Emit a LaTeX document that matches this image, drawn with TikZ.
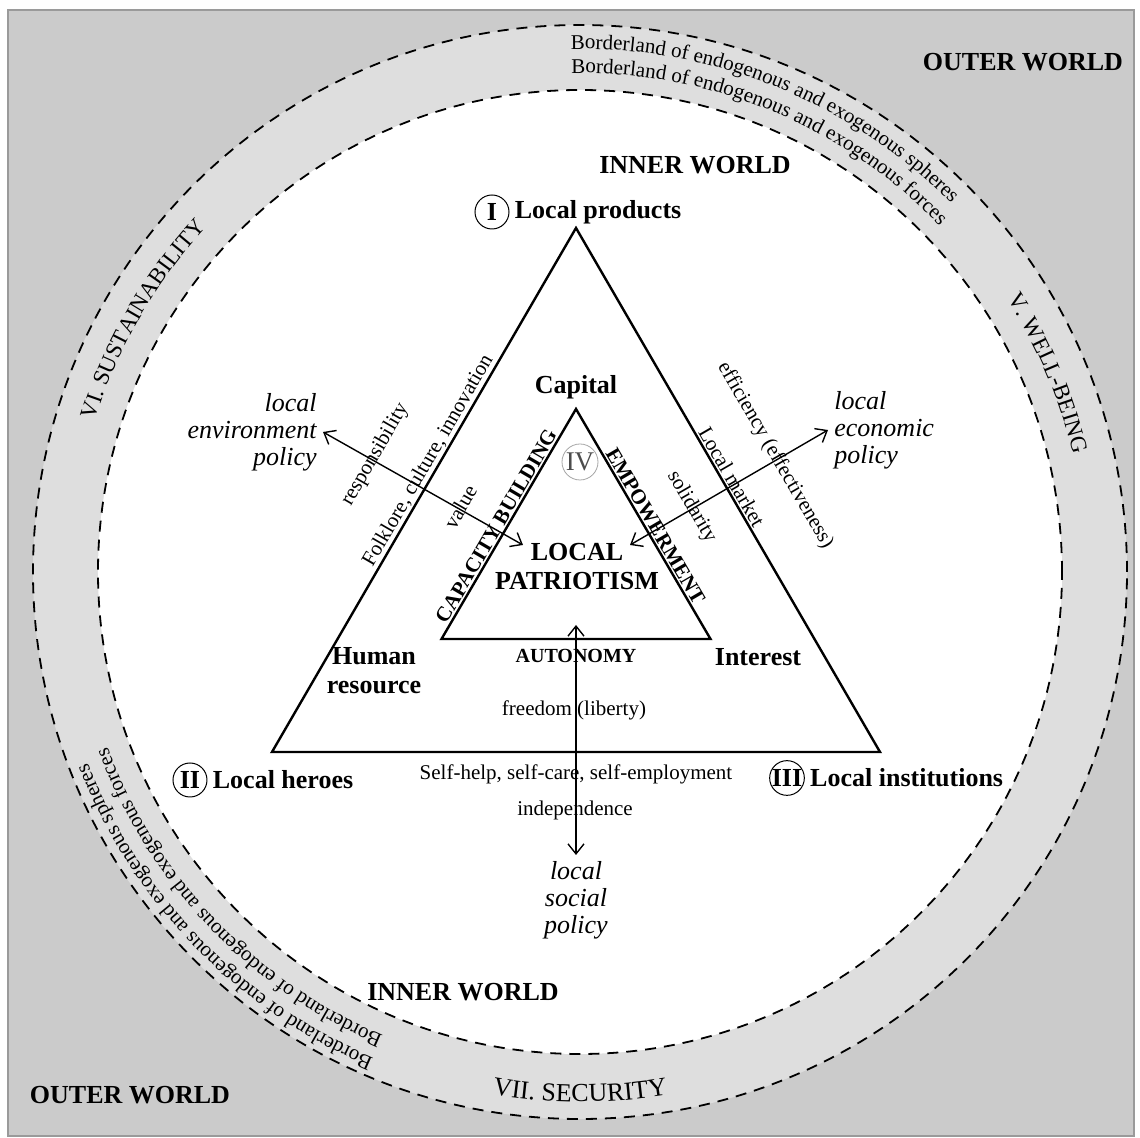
\documentclass[tikz,border=0pt]{standalone}
\usepackage{fontspec}
\setmainfont{Liberation Serif}
\usepackage{xcolor}
\usepackage{tikz}
\usetikzlibrary{arrows.meta, positioning, calc, decorations.text}

\definecolor{outergray}{HTML}{CBCBCB}
\definecolor{ringgray}{HTML}{DEDEDE}
\definecolor{framegray}{HTML}{9A9A9A}
\newcommand{\ringfont}{\fontsize{11.5}{13}\selectfont}
\newcommand{\bordfont}{\fontsize{10.5}{12}\selectfont}

\begin{document}
\begin{tikzpicture}[
    x=0.5pt, y=0.5pt,
    side/.style={draw, line width=1.2pt, line join=miter},
    border/.style={dash pattern=on 5.5pt off 4pt, line width=0.9pt},
    title/.style={font=\bfseries\fontsize{13}{14.5}\selectfont, align=center, inner sep=1pt},
    num/.style={circle, draw, line width=0.5pt, minimum size=17pt, inner sep=0pt, font=\bfseries\fontsize{13}{15}\selectfont},
    lbl/.style={font=\fontsize{10.5}{12}\selectfont, inner sep=1pt},
    caps/.style={font=\bfseries\fontsize{#1}{12}\selectfont, inner sep=1pt},
    policy/.style={font=\itshape\fontsize{13}{13.5}\selectfont, inner sep=3pt, align=#1},
    biarrow/.style={{Straight Barb[length=5pt,width=8pt]}-{Straight Barb[length=5pt,width=8pt]}, line width=0.7pt},
    ringtext/.style n args={2}{decorate, decoration={text along path, text align=#1, text={#2}}},
]
\useasboundingbox (-580,-566) rectangle (560,572);

% Worlds
\fill[outergray, draw=framegray, line width=0.8pt] (-572,-564) rectangle (554,562);
\fill[ringgray] (0,0) circle[radius=547];
\fill[white] (0,0) circle[radius=482];
\draw[border] (0,0) circle[radius=547];
\draw[border] (0,0) circle[radius=482];

\node[title] (outerTR) at (443,510) {OUTER WORLD};
\node[title] (outerBL) at (-450,-523) {OUTER WORLD};
\node[title] (innerT) at (115,407) {INNER WORLD};
\node[title] (innerB) at (-117,-420) {INNER WORLD};

% Ring labels
\path[ringtext={center}{|\ringfont|VI. SUSTAINABILITY}] (190:508) arc[start angle=190, end angle=110, radius=508];
\path[ringtext={center}{|\ringfont|V. WELL-BEING}] (63:507) arc[start angle=63, end angle=-17, radius=507];
\path[ringtext={center}{|\fontsize{13}{15}\selectfont|VII. SECURITY}] (230:530) arc[start angle=230, end angle=310, radius=530];
\path[ringtext={left}{|\bordfont|Borderland of endogenous and exogenous spheres}] (91:523) arc[start angle=91, end angle=20, radius=523];
\path[ringtext={left}{|\bordfont|Borderland of endogenous and exogenous forces}] (91:499) arc[start angle=91, end angle=20, radius=499];
\path[ringtext={left}{|\bordfont|Borderland of endogenous and exogenous spheres}] (247:528) arc[start angle=247, end angle=175, radius=528];
\path[ringtext={left}{|\bordfont|Borderland of endogenous and exogenous forces}] (247:504) arc[start angle=247, end angle=175, radius=504];

% Triangles
\coordinate (oT) at (-4,344);
\coordinate (oL) at (-308,-180);
\coordinate (oR) at (300,-180);
\coordinate (iT) at (-4,163);
\coordinate (iL) at (-138.5,-67);
\coordinate (iR) at (130.5,-67);
\draw[side] (oT) -- (oL) -- (oR) -- cycle;
\draw[side] (iT) -- (iL) -- (iR) -- cycle;

% Corners
\node[num] (numI) at (-88,360) {I};
\node[title, right=1.5pt of numI] (products) {Local products};
\node[num] (numII) at (-390,-208) {II};
\node[title, right=1.5pt of numII] (heroes) {Local heroes};
\node[num] (numIII) at (207,-206) {III};
\node[title, right=1.5pt of numIII] (institutions) {Local institutions};

\node[title] (capital) at (-4,185) {Capital};
\node[title] (human) at (-206,-99) {Human\\resource};
\node[title] (interest) at (178,-85) {Interest};
\node[circle, draw=gray!70, line width=0.4pt, minimum size=18pt, inner sep=0pt, text=black!70, font=\fontsize{13.5}{15}\selectfont] (numIV) at (0,110) {IV};
\node[title] (patriot) at (-3,5) {LOCAL\\PATRIOTISM};

% Side labels
\path (oL) -- (oT)
    node[lbl, pos=0.545, sloped, above] (folklore) {Folklore, culture, innovation}
    node[lbl, pos=0.51, sloped, above=24pt] (resp) {responsibility}
    node[lbl, pos=0.506, sloped, below=15pt] (value) {value};
\path (oT) -- (oR)
    node[lbl, pos=0.485, sloped, above] (market) {Local market}
    node[lbl, pos=0.49, sloped, above=23pt] (effic) {efficiency (effectiveness)}
    node[lbl, pos=0.494, sloped, below=14pt] (solid) {solidarity};
\path (oL) -- (oR)
    node[lbl, midway, below=5pt] (selfhelp) {Self-help, self-care, self-employment};
\path (iL) -- (iT) node[caps=10.5, pos=0.47, sloped, above] (capacity) {CAPACITY BUILDING};
\path (iT) -- (iR) node[caps=10.5, pos=0.53, sloped, above] (empower) {EMPOWERMENT};
\path (iL) -- (iR) node[caps=10, midway, below=4pt] (autonomy) {AUTONOMY};
\node[lbl] (freedom) at (-6,-138) {freedom (liberty)};
\node[lbl] (indep) at (-5,-238) {independence};

% Policies
\node[policy=right, anchor=east] (envpol) at (-257,140) {local\\environment\\policy};
\node[policy=left, anchor=west] (ecopol) at (248,142) {local\\economic\\policy};
\node[policy=center, anchor=north] (socpol) at (-4,-283) {local\\social\\policy};

\coordinate (patL) at (-57,27);
\coordinate (patR) at (50,27);
\coordinate (patB) at (-4,-53);

\draw[biarrow] (envpol.east) -- (patL);
\draw[biarrow] (ecopol.west) -- (patR);
\draw[biarrow] (socpol.north) -- (patB);

\end{tikzpicture}
\end{document}
